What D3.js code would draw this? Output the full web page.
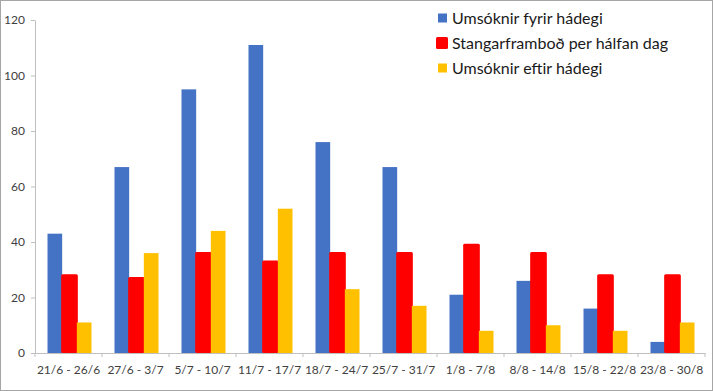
<!DOCTYPE html>
<html><head><meta charset="utf-8">
<script src="https://cdn.jsdelivr.net/npm/d3@7"></script>
<style>body{margin:0;background:#fff}svg{display:block}</style>
</head><body>
<script>
const categories = ["21/6 - 26/6","27/6 - 3/7","5/7 - 10/7","11/7 - 17/7","18/7 - 24/7","25/7 - 31/7","1/8 - 7/8","8/8 - 14/8","15/8 - 22/8","23/8 - 30/8"];
const seriesNames = ["Umsóknir fyrir hádegi","Stangarframboð per hálfan dag","Umsóknir eftir hádegi"];
const before = [43,67,95,111,76,67,21,26,16,4];
const rods = [28,27,36,33,36,36,39,36,28,28];
const after = [11,36,44,52,23,17,8,10,8,11];
const yTicks = [0,20,40,60,80,100,120];
const colors = ["#4472c4","#ff0000","#ffc000"];

const W=713,H=391;
const svg=d3.select("body").append("svg").attr("width",W).attr("height",H);
svg.append("rect").attr("x",0.5).attr("y",0.5).attr("width",W-1).attr("height",H-1).attr("fill","#fff").attr("stroke","#a6a6a6");

const m={l:35,r:8,t:20,b:38};
const x=d3.scaleBand().domain(categories).range([m.l,705]).paddingInner(0).paddingOuter(0);
const y=d3.scaleLinear().domain([0,120]).range([353,20]);
const inner=d3.scaleBand().domain([0,1,2]).range([0,44]);
const series=[before,rods,after];
const font="Lato, 'Open Sans', sans-serif";

// y axis
const ya=svg.append("g").attr("transform",`translate(${m.l},0)`)
 .call(d3.axisLeft(y).tickValues(yTicks).tickSize(4).tickSizeOuter(0).tickPadding(6));
ya.select(".domain").attr("stroke","#bfbfbf");
ya.selectAll(".tick line").attr("stroke","#bfbfbf");
ya.selectAll("text").attr("font-family",font).attr("font-size",12).attr("fill","#404040");

// x axis
const xa=svg.append("g").attr("transform",`translate(0,353)`)
 .call(d3.axisBottom(x).tickSize(0).tickPadding(12));
xa.select(".domain").attr("stroke","#bfbfbf");
xa.selectAll("text").attr("font-family",font).attr("font-size",12).attr("fill","#404040");
const bounds=categories.map(c=>x(c)).concat([x.range()[1]]);
svg.append("g").selectAll("line").data(bounds).join("line")
 .attr("x1",d=>d).attr("x2",d=>d).attr("y1",353).attr("y2",357).attr("stroke","#bfbfbf");

// bars
const off=(x.bandwidth()-44)/2+1;
series.forEach((vals,si)=>{
  const g=svg.append("g");
  g.selectAll("rect").data(vals).join("rect")
   .attr("x",(d,i)=>x(categories[i])+off+inner(si)-(si===1?1:0))
   .attr("width",inner.bandwidth()+(si===1?2:0))
   .attr("y",d=>y(d)-(si===1?1:0))
   .attr("height",d=>y(0)-y(d)+(si===1?1:0))
   .attr("rx",si===1?1.5:0)
   .attr("fill",colors[si]);
});

// legend
const lg=svg.append("g").attr("transform","translate(438,0)");
seriesNames.forEach((n,i)=>{
  const cy=18+i*25;
  const s=i===1?12:9;
  lg.append("rect").attr("x",i===1?-2:0).attr("y",cy-s/2).attr("width",s).attr("height",s).attr("rx",i===1?1.5:0).attr("fill",colors[i]);
  lg.append("text").attr("x",14).attr("y",cy).attr("dy","0.35em").attr("font-family",font).attr("font-size",16).attr("fill","#1a1a1a").text(n);
});
</script>
</body></html>
